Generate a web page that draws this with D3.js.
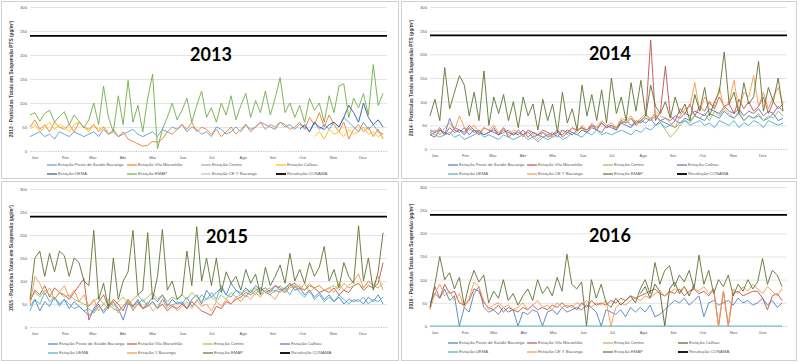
<!DOCTYPE html>
<html>
<head>
<meta charset="utf-8">
<script src="https://cdn.jsdelivr.net/npm/d3@7"></script>
<style>
  body { margin: 0; background: #fff; }
  svg { display: block; }
</style>
</head>
<body>
<svg id="chart" width="804" height="362"></svg>
<script>
// ---- shared labels ----
const months = ['Jan', 'Fev', 'Mar', 'Abr', 'Mai', 'Jun', 'Jul', 'Ago', 'Set', 'Out', 'Nov', 'Dez'];
const yTicks = [0, 50, 100, 150, 200, 250, 300];
const conama = 240;     // Resolução CONAMA limit, µg/m³
const STEP = 5;         // days between the readings kept below

// ---- 2013 (one value every 5 days, Jan 1 .. Dec 27) ----
const emap2013 = [75, 80, 62, 78, 85, 60, 72,  82, 55, 75, 62, 48,  65, 100, 55, 135, 70, 40,
  115, 55, 147, 60, 95, 40,  110, 160, 5, 45, 70, 100, 65,  85, 110, 60, 95, 125, 70,
  90, 60, 100, 75, 115, 65,  95, 120, 70, 105, 80, 125,  75, 110, 153, 80, 100, 70,
  95, 60, 110, 85, 100, 60,  115, 80, 135, 140, 70, 110,  90, 120, 75, 180, 95, 120];
const vila2013 = [50, 65, 45, 55, 40, 60, 50,  45, 55, 40, 60, 50,  45, 55, 40, 50, 35, 45,
  30, 40, 25, 20, 15, 10,  12, 20, 18, 25, 40, 35, 45,  55, 45, 60, 40, 50, 45,
  35, 45, 30, 40, 50, 35,  45, 55, 40, 50, 60, 45,  55, 50, 60, 55, 45, 50,
  60, 45, 70, 55, 80, 50,  75, 55, 40, 60, 25, 45,  55, 40, 50, 30, 45, 25];
const posto2013 = [30, 35, 40, 30, 35, 25, 40,  35, 30, 40, 35, 30,  35, 40, 30, 45, 35, 40,
  30, 35, 40, 45, 35, 30,  35, 40, 30, 45, 40, 50, 45,  55, 40, 50, 45, 35, 40,
  30, 50, 45, 35, 40, 50,  40, 55, 45, 50, 60, 55,  50, 45, 60, 50, 55, 45,
  55, 50, 40, 60, 45, 55,  45, 60, 50, 70, 60, 50,  40, 60, 45, 55, 40, 35];
const calhau2013a = [45, 55, 40, 50, 60, 45, 55,  50, 40, 55, 60, 50,  40, 55, 45, 50, 40];  // from Jan 1
const calhau2013b = [30, 40, 25,  45, 35, 40, 30, 45, 35,  40, 50, 35, 40, 30, 35];          // from Oct 17
const uema2013 = [45, 55, 40, 60, 50, 45,  55, 60, 50, 70, 95, 80,  60, 100, 70, 55, 65, 50]; // from Oct 2

// ---- 2014 ----
const posto2014 = [40, 35, 45, 30, 65, 40, 35,  45, 30, 40, 35, 30,  35, 40, 30, 35, 40, 30,
  35, 30, 40, 35, 30, 25,  30, 35, 25, 40, 35, 30, 40,  45, 40, 50, 45, 55, 45,
  50, 45, 55, 60, 50, 55,  60, 55, 65, 50, 60, 55,  50, 60, 55, 65, 60, 70,
  65, 60, 75, 70, 65, 80,  70, 65, 75, 60, 70, 65,  70, 60, 65, 75, 60, 65];
const vila2014 = [30, 25, 40, 35, 30, 45, 40,  35, 50, 40, 30, 45,  40, 35, 30, 45, 25, 35,
  30, 40, 25, 35, 30, 40,  35, 30, 40, 25, 35, 45, 40,  45, 35, 50, 40, 55, 45,
  50, 40, 60, 55, 65, 50,  60, 70, 230, 60, 80, 175,  70, 60, 85, 75, 95, 70,
  90, 80, 100, 85, 110, 90,  95, 75, 105, 85, 100, 80,  90, 110, 75, 100, 85, 95];
const centro2014 = [50, 45, 60, 55, 65, 55,  60, 70, 65, 75, 55, 40,  25, 35, 50, 60, 55, 70,
  65, 75, 60, 80, 70, 85,  75, 65, 80, 60, 70, 65,  75, 60, 70, 65, 80, 70];  // from Jul 4
const calhau2014 = [30, 35, 40, 30, 45, 35, 40,  30, 45, 35, 40, 30,  35, 45, 30, 40, 35, 30,
  40, 30, 35, 25, 30, 35,  25, 30, 35, 30, 40, 35, 30,  40, 35, 45, 40, 35, 50,
  45, 40, 55, 50, 45, 60,  55, 65, 60, 70, 60, 65,  60, 70, 65, 75, 70, 80,
  75, 70, 85, 80, 75, 90,  80, 75, 85, 70, 80, 75,  85, 70, 80, 75, 90, 80];
const uema2014 = [35, 30, 25, 30, 35, 25, 30,  20, 25, 30, 35, 25,  30, 25, 20, 30, 25, 20,
  25, 30, 20, 25, 15, 25,  20, 25, 30, 20, 25, 35, 30,  25, 35, 30, 40, 30, 35,
  30, 35, 40, 35, 30, 40,  35, 45, 40, 50, 55, 45,  50, 45, 55, 60, 50, 55,
  60, 50, 55, 45, 60, 55,  50, 60, 45, 55, 50, 60,  55, 45, 60, 55, 50, 55];
const ceY2014 = [35, 40, 30, 45, 55, 40, 70,  45, 40, 50, 35, 45,  40, 50, 35, 45, 30, 40,
  35, 25, 40, 30, 20, 35,  30, 25, 35, 40, 30, 45, 35,  50, 40, 55, 45, 60, 50,
  55, 45, 65, 60, 70, 55,  65, 75, 60, 80, 70, 65,  55, 45, 70, 85, 90, 140,
  80, 110, 95, 90, 130, 85,  100, 145, 80, 120, 110, 155,  90, 120, 85, 110, 130, 95];
const emap2014 = [70, 105, 60, 172, 85, 120, 155,  135, 70, 120, 60, 165,  50, 110, 75, 115, 60, 100,
  45, 110, 70, 95, 40, 105,  60, 95, 35, 120, 55, 85, 40,  135, 70, 115, 60, 125, 55,
  150, 75, 110, 60, 140, 80,  145, 70, 135, 90, 75, 100,  65, 110, 75, 95, 60, 115,
  80, 130, 70, 100, 120, 205,  95, 120, 75, 140, 95, 110,  185, 80, 130, 100, 150, 80];

// ---- 2015 ----
const posto2015 = [45, 60, 35, 55, 45, 65, 50,  60, 40, 55, 45, 35,  25, 35, 50, 30, 45, 55,
  40, 15, 50, 45, 60, 40,  50, 65, 55, 70, 45, 60, 50,  55, 40, 60, 70, 50, 80,
  65, 75, 85, 70, 95, 80,  70, 85, 75, 90, 80, 85,  75, 90, 80, 85, 95, 80,
  85, 70, 80, 65, 75, 60,  70, 55, 65, 50, 60, 55,  60, 50, 65, 55, 70, 50];
const vila2015 = [55, 80, 70, 90, 65, 85, 75,  70, 60, 75, 90, 105,  15, 40, 55, 70, 45, 60,
  50, 35, 60, 45, 55, 40,  45, 55, 40, 50, 35, 45, 40,  50, 40, 55, 45, 35, 30,
  25, 45, 40, 55, 50, 60,  65, 75, 70, 80, 85, 75,  80, 90, 85, 75, 90, 95,
  85, 80, 90, 85, 75, 80,  75, 85, 70, 80, 75, 90,  95, 80, 90, 85, 95, 140];
const centro2015 = [60, 75, 65, 80, 70, 60, 75,  65, 70, 60, 55, 50,  45, 55, 65, 50, 60, 45,
  55, 65, 50, 60, 70, 55,  65, 75, 60, 70, 55, 65, 60,  70, 60, 75, 65, 55, 60,
  65, 55, 70, 60, 75, 65,  70, 80, 75, 85, 70, 80,  85, 75, 90, 80, 95, 85,
  90, 80, 95, 85, 90, 80,  85, 90, 80, 95, 85, 90,  95, 85, 100, 90, 85, 95];
const uema2015 = [35, 60, 50, 75, 55, 65, 45,  60, 50, 40, 45, 35,  40, 30, 45, 35, 50, 40,
  35, 45, 55, 40, 50, 60,  45, 55, 40, 60, 50, 45, 55,  50, 65, 45, 55, 70, 60,
  75, 60, 90, 70, 65, 80,  75, 65, 80, 70, 85, 75,  70, 80, 75, 85, 70, 90,
  75, 65, 80, 60, 70, 55,  65, 55, 70, 60, 50, 60,  55, 65, 50, 60, 55, 65];
const yBac2015 = [50, 110, 95, 70, 85, 60, 75,  90, 65, 80, 55, 70,  45, 60, 35, 50, 40, 55,
  30, 45, 60, 35, 50, 40,  55, 35, 45, 60, 40, 50, 35,  45, 55, 40, 60, 45, 50,
  35, 55, 45, 60, 50, 65,  55, 70, 60, 75, 65, 80,  70, 60, 80, 75, 85, 90,
  80, 95, 75, 85, 90, 80,  85, 75, 95, 80, 90, 100,  115, 85, 100, 90, 110, 80];
const emap2015 = [60, 150, 165, 110, 160, 120, 165,  155, 110, 150, 140, 100,  90, 210, 60, 95, 40, 150,
  60, 100, 120, 210, 70, 80,  205, 60, 110, 212, 80, 100, 60,  70, 165, 90, 218, 100, 150,
  90, 150, 75, 120, 95, 110,  80, 125, 95, 115, 70, 130,  90, 110, 135, 95, 160, 100,
  125, 95, 140, 110, 130, 175,  100, 125, 85, 140, 110, 95,  220, 100, 150, 80, 120, 205];

// ---- 2016 ----
const posto2016 = [50, 70, 60, 80, 55, 65, 0,  40, 30, 70, 85, 40,  30, 35, 25, 40, 30, 35,
  0, 30, 25, 35, 30, 0,  30, 35, 25, 40, 30, 35, 40,  35, 45, 40, 30, 0, 35,
  30, 25, 35, 20, 40, 30,  40, 30, 45, 20, 25, 35,  45, 55, 50, 60, 45, 55,
  65, 20, 50, 55, 45, 50,  55, 45, 60, 50, 55, 45,  50, 60, 45, 55, 40, 50];
const vila2016 = [40, 85, 60, 90, 70, 75, 50,  45, 55, 80, 75, 50,  40, 35, 45, 30, 40, 35,
  30, 40, 35, 45, 35, 40,  35, 45, 40, 50, 40, 45, 35,  50, 40, 55, 45, 50, 45,
  55, 50, 60, 55, 65, 60,  65, 70, 75, 80, 70, 65,  75, 70, 80, 65, 75, 80,
  70, 75, 65, 80, 0, 75,  0, 70, 75, 65, 70, 75,  75, 60, 35, 65, 70, 55];
const calhau2016 = [70, 85, 60, 90, 75, 0, 80, 95, 70, 85, 65, 90];  // from Aug 4
const uema2016 = [0, 0, 0, 0, 0, 0, 0,  0, 0, 0, 0, 0,  0, 0, 0, 0, 0, 0,
  0, 0, 0, 0, 0, 0,  0, 0, 0, 0, 0, 0, 0,  0, 0, 0, 0, 0, 0,
  0, 0, 0, 0, 0, 0,  0, 0, 0, 0, 0, 0,  0, 0, 0, 0, 0, 0,
  0, 0, 0, 0, 0, 0,  0, 0, 0, 0, 0, 0,  0, 0, 0, 0, 0, 0];
const ceY2016 = [35, 70, 90, 65, 75, 55, 70,  40, 60, 95, 85, 55,  35, 45, 50, 40, 45, 35,
  40, 50, 35, 45, 55, 40,  45, 35, 50, 40, 45, 40, 50,  45, 55, 40, 50, 45, 55,
  0, 40, 50, 45, 55, 60,  55, 65, 60, 70, 75, 65,  70, 80, 75, 85, 70, 80,
  75, 85, 70, 80, 0, 75,  0, 80, 70, 85, 75, 90,  80, 70, 85, 75, 65, 80];
const emap2016 = [40, 90, 150, 100, 115, 80, 105,  45, 90, 120, 95, 110,  50, 75, 60, 100, 55, 70,
  45, 65, 80, 55, 100, 70,  85, 65, 105, 75, 155, 90, 80,  95, 0, 100, 60, 90, 50,
  40, 60, 45, 55, 65, 50,  80, 100, 70, 137, 90, 120,  130, 85, 110, 95, 120, 80,
  153, 90, 120, 70, 100, 85,  110, 65, 90, 75, 100, 80,  95, 146, 90, 120, 110, 85];

// ---- panels ----
const panels = [
  { year: 2013, x: 0, y: 0, w: 400, h: 180, top: 7, bottom: 151, titleX: 211, titleY: 61,
    yLabel: '2013 - Partículas Totais em Suspensão PTS (µg/m³)',
    legendRows: [165, 174], legendCols: [47, 127, 201, 276],
    series: [
      { name: 'Estação Posto de Saúde Bacanga', color: '#5b9bd5', parts: [[0, posto2013]] },
      { name: 'Estação Vila Maranhão', color: '#ed7d31', parts: [[0, vila2013]] },
      { name: 'Estação Centro', color: '#a5a5a5', parts: [] },
      { name: 'Estação Calhau', color: '#ffc000', parts: [[0, calhau2013a], [290, calhau2013b]] },
      { name: 'Estação UEMA', color: '#2f5597', parts: [[275, uema2013]] },
      { name: 'Estação EMAP', color: '#70ad47', parts: [[0, emap2013]] },
      { name: 'Estação CE Y Bacanga', color: '#a9c4e0', parts: [] }
    ] },
  { year: 2014, x: 400, y: 0, w: 398, h: 180, top: 7, bottom: 149, titleX: 210, titleY: 60,
    yLabel: '2014 - Partículas Totais em Suspensão PTS (µg/m³)',
    legendRows: [165, 174], legendCols: [48, 127, 203, 277],
    series: [
      { name: 'Estação Posto de Saúde Bacanga', color: '#4f81bd', parts: [[0, posto2014]] },
      { name: 'Estação Vila Maranhão', color: '#c0504d', parts: [[0, vila2014]] },
      { name: 'Estação Centro', color: '#9bbb59', parts: [[185, centro2014]] },
      { name: 'Estação Calhau', color: '#8064a2', parts: [[0, calhau2014]] },
      { name: 'Estação UEMA', color: '#4bacc6', parts: [[0, uema2014]] },
      { name: 'Estação CE Y Bacanga', color: '#f79646', parts: [[0, ceY2014]] },
      { name: 'Estação EMAP', color: '#5e7331', parts: [[0, emap2014]] }
    ] },
  { year: 2015, x: 0, y: 180, w: 400, h: 182, top: 9, bottom: 147, titleX: 227, titleY: 63,
    yLabel: '2015 - Partículas Totais em Suspensão (µg/m³)',
    legendRows: [164, 173], legendCols: [48, 127, 203, 280],
    series: [
      { name: 'Estação Posto de Saúde Bacanga', color: '#4f81bd', parts: [[0, posto2015]] },
      { name: 'Estação Vila Maranhão', color: '#c0504d', parts: [[0, vila2015]] },
      { name: 'Estação Centro', color: '#9bbb59', parts: [[0, centro2015]] },
      { name: 'Estação Calhau', color: '#8064a2', parts: [] },
      { name: 'Estação UEMA', color: '#4bacc6', parts: [[0, uema2015]] },
      { name: 'Estação Y Bacanga', color: '#f79646', parts: [[0, yBac2015]] },
      { name: 'Estação EMAP', color: '#5e7331', parts: [[0, emap2015]] }
    ] },
  { year: 2016, x: 400, y: 180, w: 398, h: 182, top: 7, bottom: 146, titleX: 210, titleY: 62,
    yLabel: '2016 - Partículas Totais em Suspensão (µg/m³)',
    legendRows: [163, 172], legendCols: [48, 127, 203, 278],
    series: [
      { name: 'Estação Posto de Saúde Bacanga', color: '#4f81bd', parts: [[0, posto2016]] },
      { name: 'Estação Vila Maranhão', color: '#c0504d', parts: [[0, vila2016]] },
      { name: 'Estação Centro', color: '#d9a65b', parts: [] },
      { name: 'Estação Calhau', color: '#4f6228', parts: [[215, calhau2016]] },
      { name: 'Estação UEMA', color: '#4bacc6', parts: [[0, uema2016]] },
      { name: 'Estação CE Y Bacanga', color: '#f79646', parts: [[0, ceY2016]] },
      { name: 'Estação EMAP', color: '#5e7331', parts: [[0, emap2016]] }
    ] }
];

const svg = d3.select('#chart');
panels.forEach(drawPanel);

function drawPanel(p) {
  const g = svg.append('g').attr('transform', `translate(${p.x},${p.y})`);

  g.append('rect')
    .attr('x', 1.5).attr('y', 1.5).attr('width', p.w - 3).attr('height', p.h - 3)
    .attr('fill', '#fff').attr('stroke', '#d0d0d0');

  const start = new Date(p.year, 0, 1);
  const end = new Date(p.year, 11, 31);
  const x = d3.scaleTime().domain([start, end]).range([30, 387]);
  const y = d3.scaleLinear().domain([0, 300]).range([p.bottom, p.top]);

  // Grid
  g.append('g')
    .call(d3.axisLeft(y).tickValues(yTicks.slice(1)).tickSize(-357).tickFormat(''))
    .attr('transform', 'translate(30,0)')
    .call(a => a.select('.domain').remove())
    .selectAll('line').attr('stroke', '#d9d9d9').attr('stroke-width', 0.7);

  // Y tick labels
  g.append('g').attr('transform', 'translate(27,0)')
    .call(d3.axisLeft(y).tickValues(yTicks).tickSize(0).tickPadding(0))
    .call(a => a.select('.domain').remove())
    .selectAll('text').attr('font-family', 'Liberation Sans, Arial, sans-serif')
    .attr('font-size', '4.2px').attr('fill', '#595959');

  // X axis: dashed base line and month labels
  const xAxis = g.append('g').attr('transform', `translate(0,${p.bottom})`)
    .call(d3.axisBottom(x).tickValues(d3.timeMonths(start, end)).tickSize(0).tickPadding(5)
      .tickFormat(d => months[d.getMonth()]));
  xAxis.select('.domain').attr('stroke', '#bfbfbf').attr('stroke-width', 0.8).attr('stroke-dasharray', '1.5,1');
  xAxis.selectAll('text').attr('text-anchor', 'start').attr('dx', 1)
    .attr('font-family', 'Liberation Sans, Arial, sans-serif').attr('font-size', '4.2px').attr('fill', '#595959');

  // Series
  const line = d3.line()
    .defined(d => d.v != null)
    .x(d => x(d.date))
    .y(d => y(d.v));

  p.series.forEach(s => {
    s.parts.forEach(([firstDay, values]) => {
      const pts = values.map((v, i) => ({ date: d3.timeDay.offset(start, firstDay + i * STEP), v }));
      g.append('path').datum(pts)
        .attr('d', line)
        .attr('fill', 'none')
        .attr('stroke', s.color)
        .attr('stroke-width', 0.9)
        .attr('stroke-linejoin', 'round');
    });
  });

  // CONAMA limit
  g.append('line')
    .attr('x1', x(start)).attr('x2', x(end))
    .attr('y1', y(conama)).attr('y2', y(conama))
    .attr('stroke', '#000').attr('stroke-width', 1.8);

  // Year title
  g.append('text')
    .attr('x', p.titleX).attr('y', p.titleY)
    .attr('text-anchor', 'middle')
    .attr('font-family', 'Lato, Open Sans, sans-serif').attr('font-weight', 700)
    .attr('font-size', '18px').attr('fill', '#000')
    .text(p.year);

  // Y axis title
  g.append('text')
    .attr('transform', `translate(13,${(p.top + p.bottom) / 2}) rotate(-90)`)
    .attr('text-anchor', 'middle')
    .attr('font-family', 'Liberation Sans, Arial, sans-serif')
    .attr('font-size', '4.8px').attr('font-weight', 700).attr('fill', '#404040')
    .text(p.yLabel);

  // Legend
  const legendItems = p.series.map(s => ({ name: s.name, color: s.color, width: 1.2 }))
    .concat([{ name: 'Resolução CONAMA', color: '#000', width: 1.8 }]);
  legendItems.forEach((d, i) => {
    const lx = p.legendCols[i % 4];
    const ly = p.legendRows[Math.floor(i / 4)];
    g.append('line')
      .attr('x1', lx).attr('x2', lx + 10).attr('y1', ly).attr('y2', ly)
      .attr('stroke', d.color).attr('stroke-width', d.width);
    g.append('text')
      .attr('x', lx + 11).attr('y', ly + 1.4)
      .attr('font-family', 'Liberation Sans, Arial, sans-serif')
      .attr('font-size', '4.3px').attr('fill', '#595959')
      .text(d.name);
  });
}
</script>
</body>
</html>
